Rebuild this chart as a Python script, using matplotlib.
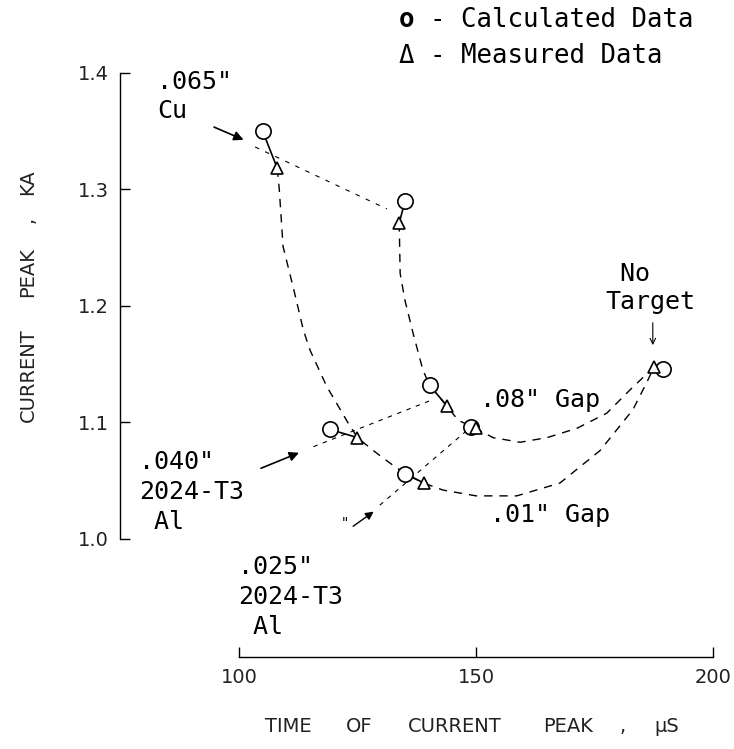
import matplotlib
matplotlib.use("Agg")
import matplotlib.pyplot as plt

# calculated (circles) and measured (triangles) peak points
calc_x = [105.0, 135.0, 119.2, 140.2, 135.1, 148.9, 189.5]
calc_y = [1.350, 1.290, 1.094, 1.132, 1.056, 1.096, 1.146]
meas_x = [108.1, 133.8, 125.0, 143.9, 139.0, 149.9, 187.6]
meas_y = [1.318, 1.271, 1.087, 1.114, 1.048, 1.095, 1.148]

# hand drawn curve for .01" gap
gap01_x = [108.1, 108.5, 109.3, 111.5, 113.6, 115.0, 118.5, 123.1, 125.0, 128.3,
           131.9, 135.1, 139.0, 143.0, 150.0, 158.6, 167.7, 176.2, 183.1, 186.1, 187.6]
gap01_y = [1.318, 1.300, 1.251, 1.215, 1.179, 1.162, 1.131, 1.099, 1.087, 1.076,
           1.065, 1.056, 1.048, 1.042, 1.037, 1.037, 1.048, 1.076, 1.111, 1.135, 1.148]

# hand drawn curve for .08" gap
gap08_x = [133.8, 134.0, 135.0, 136.7, 138.8, 140.2, 143.9, 146.2, 149.9, 153.6,
           159.3, 165.0, 171.3, 177.6, 182.5, 186.1, 187.6]
gap08_y = [1.271, 1.228, 1.205, 1.177, 1.145, 1.132, 1.114, 1.102, 1.095, 1.087,
           1.083, 1.087, 1.095, 1.108, 1.128, 1.142, 1.148]

# links between same target at the two gaps
cu_x = [103.4, 131.2]
cu_y = [1.3365, 1.2833]
al040_x = [115.7, 140.3]
al040_y = [1.0792, 1.1187]
al025_x = [129.7, 148.9]
al025_y = [1.029, 1.096]

xticks = [100, 150, 200]
yticks = [1.0, 1.1, 1.2, 1.3, 1.4]
ytick_labels = ["1.0", "1.1", "1.2", "1.3", "1.4"]

xlabel_words = ["TIME", "OF", "CURRENT", "PEAK", ",", "\u03bcS"]
xlabel_pos = [288, 359, 455, 568, 623, 667]
ylabel_words = ["CURRENT", "PEAK", ",", "KA"]
ylabel_pos = [375, 272, 220, 182]

mono = "DejaVu Sans Mono"

fig = plt.figure(figsize=(7.34, 7.49), dpi=100)
ax = fig.add_axes([0.3256, 0.2804, 0.6458, 0.6222])
ax.set_xlim(100, 200)
ax.set_ylim(1.0, 1.4)

for s in ["top", "right"]:
    ax.spines[s].set_visible(False)
ax.spines["left"].set_position(("outward", 85.7))
ax.spines["bottom"].set_position(("outward", 85))
ax.spines["left"].set_bounds(1.0, 1.4)
ax.spines["bottom"].set_bounds(100, 200)
ax.spines["left"].set_linewidth(1.0)
ax.spines["bottom"].set_linewidth(1.0)

ax.set_xticks(xticks)
ax.set_yticks(yticks)
ax.set_yticklabels(ytick_labels)
ax.tick_params(direction="in", length=7, width=1.0, labelsize=14, pad=8, colors="black")
ax.tick_params(axis="x", pad=8)
for lab in ax.get_xticklabels() + ax.get_yticklabels():
    lab.set_color("#222222")

# curves
ax.plot(gap01_x, gap01_y, color="black", lw=1.0, dashes=(6, 5), zorder=2)
ax.plot(gap08_x, gap08_y, color="black", lw=1.0, dashes=(6, 5), zorder=2)
ax.plot(cu_x, cu_y, color="black", lw=0.8, dashes=(4, 6), zorder=2)
ax.plot(al040_x, al040_y, color="black", lw=0.8, dashes=(4, 5), zorder=2)
ax.plot(al025_x, al025_y, color="black", lw=0.8, dashes=(4, 5), zorder=2)

# tie each calculated point to its measured point
for cx, cy, mx, my in zip(calc_x, calc_y, meas_x, meas_y):
    ax.plot([cx, mx], [cy, my], color="black", lw=1.2, zorder=3)

ax.plot(calc_x, calc_y, "o", ms=11, mfc="white", mec="black", mew=1.2, zorder=4, clip_on=False)
ax.plot(meas_x, meas_y, "^", ms=8, mfc="white", mec="black", mew=1.2, zorder=5, clip_on=False)

# labels and arrows
ax.text(82.7, 1.4026, '.065"\nCu', family=mono, fontsize=18, ha="left", va="top", linespacing=1.25)
ax.annotate("", xy=(101.5, 1.3417), xytext=(94.2, 1.3545), annotation_clip=False,
            arrowprops=dict(arrowstyle="-|>", color="black", lw=1.2, mutation_scale=14))

ax.text(78.9, 1.0760, '.040"\n2024-T3\n Al', family=mono, fontsize=18, ha="left", va="top", linespacing=1.3)
ax.annotate("", xy=(113.2, 1.0749), xytext=(104.1, 1.0598), annotation_clip=False,
            arrowprops=dict(arrowstyle="-|>", color="black", lw=1.2, mutation_scale=14))

ax.text(99.8, 0.9860, '.025"\n2024-T3\n Al', family=mono, fontsize=18, ha="left", va="top", linespacing=1.3)
ax.annotate("", xy=(128.9, 1.0249), xytext=(123.6, 1.0095), annotation_clip=False,
            arrowprops=dict(arrowstyle="-|>", color="black", lw=1.0, mutation_scale=12))
ax.text(122.3, 1.0135, '"', family=mono, fontsize=10, ha="center", va="center")

ax.text(177.2, 1.2378, " No\nTarget", family=mono, fontsize=18, ha="left", va="top", linespacing=1.2)
ax.annotate("", xy=(187.3, 1.164), xytext=(187.3, 1.188), annotation_clip=False,
            arrowprops=dict(arrowstyle="->", color="black", lw=0.8, mutation_scale=10))

ax.text(150.8, 1.119, '.08" Gap', family=mono, fontsize=18, ha="left", va="center")
ax.text(153.0, 1.0206, '.01" Gap', family=mono, fontsize=18, ha="left", va="center")

# legend written as text
fig.text(399 / 734, 1 - 20 / 749, "o", family=mono, fontsize=18.5, fontweight="bold", ha="left", va="center")
fig.text(430 / 734, 1 - 20 / 749, "- Calculated Data", family=mono, fontsize=18.5, ha="left", va="center")
fig.text(399 / 734, 1 - 56 / 749, "\u0394 - Measured Data", family=mono, fontsize=18.5, ha="left", va="center")

# axis titles, spaced out word by word like the typed original
for w, px in zip(xlabel_words, xlabel_pos):
    fig.text(px / 734, 1 - 726 / 749, w, fontsize=14, color="#222222", ha="center", va="center")
for w, py in zip(ylabel_words, ylabel_pos):
    fig.text(28 / 734, 1 - py / 749, w, fontsize=14, color="#222222", rotation=90, ha="center", va="center")

fig.savefig("out.png", dpi=100)
